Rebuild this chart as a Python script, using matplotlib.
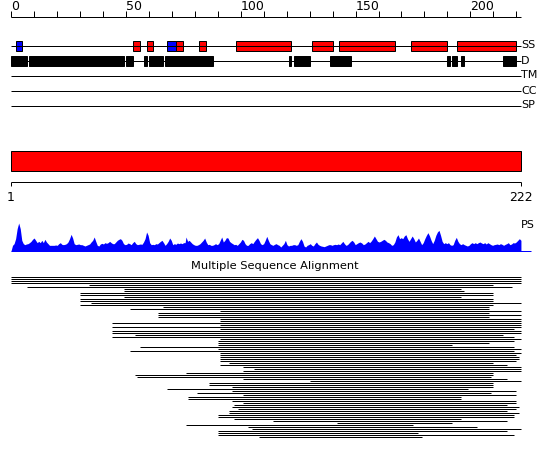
import numpy as np
import matplotlib
matplotlib.use("Agg")
import matplotlib.pyplot as plt

plt.rcParams['font.family'] = ['DejaVu Sans']

# ---------------- data ----------------
seq_len = 222
ruler_labels = [0, 50, 100, 150, 200]
ruler_minor = list(range(0, 221, 10))

# secondary structure (E = strand/blue, H = helix/red)
ss_start = [3, 54, 60, 69, 73, 83, 99, 132, 144, 175, 195]
ss_end = [5, 56, 62, 72, 75, 85, 122, 140, 167, 190, 220]
ss_type = ['E', 'H', 'H', 'E', 'H', 'H', 'H', 'H', 'H', 'H', 'H']

# disorder
dis_start = [1, 9, 51, 59, 61, 65, 68, 122, 124, 140, 191, 193, 197, 215, 218]
dis_end = [7, 49, 53, 59, 64, 66, 88, 122, 130, 148, 191, 194, 197, 217, 220]

track_names = ['SS', 'D', 'TM', 'CC', 'SP']

# PS profile (arbitrary score units), three segments
ps_seg_a = [0, 17, 22, 37, 67, 84, 67, 32, 22, 19, 21, 22, 25, 29, 35, 39, 32, 25, 29, 25,
            32, 25, 35, 27, 22, 17, 17, 17, 17, 18, 17, 22, 25, 20, 19, 20, 22, 27, 37, 50,
            39, 22, 19, 20, 21, 19, 19, 17, 15, 17, 19, 21, 27, 32, 42, 29, 17, 15, 21, 23,
            21, 25, 23, 25, 29, 25, 22, 22, 27, 32, 35, 37, 32, 22, 19, 20, 24, 22, 19, 25,
            29, 22, 19, 20, 21, 20, 27, 37, 57, 47, 25, 19, 20, 19, 22, 21, 25, 29, 32, 25,
            17, 22, 29, 39, 32, 19, 22, 20, 24, 22, 24, 22, 25, 25]
ps_seg_b = [42, 29, 32, 27, 22, 19, 17, 17, 19, 22, 27, 32, 39, 27, 19, 20, 17, 17, 19, 22,
            19, 22, 32, 42, 27, 32, 40, 39, 29, 25, 22, 19, 20, 17, 22, 27, 35, 32, 22, 17,
            17, 22, 25, 22, 29, 35, 40, 32, 22, 19, 22, 32, 44, 32, 22, 19, 17, 20, 22, 19,
            17, 12, 17, 22, 32, 19, 15, 17, 17, 19, 19, 17, 19, 29, 37, 29, 15, 12, 17, 19,
            22, 17, 15, 22, 27, 20, 17, 15, 14, 13, 15, 17, 19, 19, 17, 19, 20, 19, 21, 19,
            24, 29, 22, 17, 19, 24, 29, 32, 27, 19, 22, 25, 27]
ps_seg_c = [24, 19, 21, 25, 29, 25, 30, 37, 45, 37, 29, 27, 29, 32, 35, 32, 27, 25, 22, 17,
            19, 27, 42, 49, 37, 40, 37, 45, 49, 37, 29, 37, 45, 37, 27, 32, 39, 29, 19, 25,
            37, 47, 55, 45, 32, 22, 32, 47, 57, 62, 47, 29, 22, 25, 22, 25, 19, 17, 19, 32,
            41, 29, 22, 19, 22, 19, 17, 15, 17, 22, 25, 22, 25, 22, 25, 27, 24, 22, 25, 21,
            25, 22, 19, 17, 19, 20, 21, 19, 22, 20, 17, 20, 22, 25, 19, 21, 25, 24, 27, 32,
            37, 32]
ps_seg_span = [(0.0, 75.8), (76.2, 151.9), (152.7, 222.0)]

# multiple sequence alignment hits (start, end residue)
msa_start = [1, 1, 1, 1, 35, 8, 50, 50, 31, 31, 50, 31, 31, 36, 31, 67, 53, 92, 65, 65,
             65, 92, 92, 45, 92, 45, 92, 45, 45, 55, 45, 92, 91, 91, 91, 57, 91, 53,
             92, 92, 92, 92, 92, 96, 92, 102, 107, 102, 77, 55, 56, 102, 131, 87, 87, 97,
             69, 97, 82, 102, 78, 78, 97, 102, 98, 97, 100, 96, 96, 91, 91, 98, 115, 143,
             77, 104, 106, 91, 91, 91, 109]
msa_end = [222, 222, 222, 222, 210, 218, 196, 197, 210, 210, 196, 210, 210, 222, 210, 208,
           208, 222, 208, 222, 208, 222, 222, 222, 222, 222, 219, 222, 222, 214, 219, 222,
           219, 208, 192, 219, 222, 219,
           222, 220, 221, 221, 220, 210, 216, 222, 222, 222, 210, 210, 209, 216, 222, 210,
           210, 210, 199, 220, 209, 220, 196, 196, 220, 220, 216, 221, 220, 216, 221, 219,
           219, 196, 216, 192, 175, 203, 222, 216, 177, 219, 179]

# ---------------- layout ----------------
W, H, DPI = 550, 457, 100
PX = 72.0 / DPI
X0, PPU = 11.0, 2.297

fig = plt.figure(figsize=(W / DPI, H / DPI), dpi=DPI)
ax = fig.add_axes([0, 0, 1, 1])
ax.set_xlim(-X0 / PPU, (W - X0) / PPU)
ax.set_ylim(H, 0)
ax.axis('off')

# top ruler
ax.hlines(16.5, 0, seq_len, color='black', lw=PX)
ax.vlines(ruler_minor, 11, 16.5, color='black', lw=PX)
for t in ruler_labels:
    ax.text(t, 10.5, str(t), ha='left', va='baseline', fontsize=9)

# tracks
track_y = [45.5, 60.5, 75.5, 90.5, 105.5]
for name, y in zip(track_names, track_y):
    ax.hlines(y, 0, seq_len, color='black', lw=PX)
    ax.text(seq_len, y, name, ha='left', va='center', fontsize=8)

ss_colors = {'E': '#0000ff', 'H': '#ff0000'}
ss_s = np.array(ss_start)
ss_e = np.array(ss_end)
ax.barh(track_y[0], ss_e - ss_s + 1, left=ss_s - 1, height=10,
        color=[ss_colors[t] for t in ss_type], edgecolor='black', linewidth=PX)
d_s = np.array(dis_start)
d_e = np.array(dis_end)
ax.barh(track_y[1], d_e - d_s + 1, left=d_s - 1, height=10,
        color='black', edgecolor='black', linewidth=PX)

# domain bar
ax.barh(160.5, seq_len, left=0, height=20, color='#ff0000', edgecolor='black', linewidth=PX)

# bottom ruler
ax.hlines(181.5, 0, seq_len, color='black', lw=PX)
ax.vlines([0, seq_len], 181.5, 186, color='black', lw=PX)
ax.text(0, 201, '1', ha='center', va='baseline', fontsize=9)
ax.text(seq_len, 201, str(seq_len), ha='center', va='baseline', fontsize=9)

# PS profile
ps_base = 251.0
xs, ys = [0.0], [0.0]
for seg, (a, b) in zip([ps_seg_a, ps_seg_b, ps_seg_c], ps_seg_span):
    xs.extend(np.linspace(a, b, len(seg)))
    ys.extend(seg)
xs.append(seq_len)
ys.append(0)
xs = np.array(xs)
ys = np.array(ys, dtype=float)
ax.fill_between(xs, ps_base, ps_base - ys / 3.0, color='#0000ff', lw=0)
ax.hlines(ps_base - 0.5, 0, 226.4, color='#0000ff', lw=PX)
ax.text(seq_len, 225, 'PS', ha='left', va='center', fontsize=8)

# MSA
ax.text((275 - X0) / PPU, 269, 'Multiple Sequence Alignment', ha='center', va='baseline',
        fontsize=8.2)
ms = np.array(msa_start)
me = np.array(msa_end)
rows = 276.5 + 2 * np.arange(len(ms))
ax.hlines(rows, ms - 1, me, color='black', lw=PX)

fig.savefig('out.png', dpi=DPI)
